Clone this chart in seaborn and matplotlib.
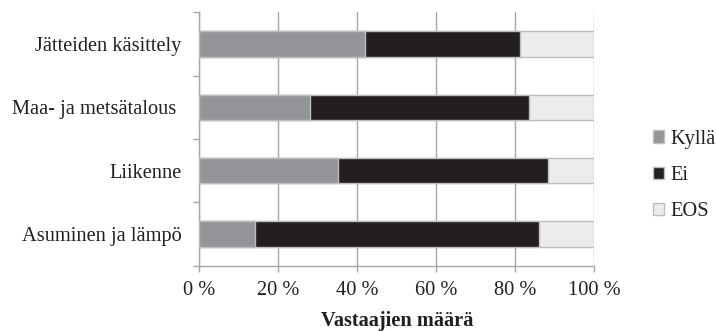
import matplotlib
matplotlib.use("Agg")
import matplotlib.pyplot as plt
import seaborn as sns
import numpy as np
import pandas as pd
from matplotlib.ticker import MultipleLocator, FixedLocator, FuncFormatter

categories = ["Jätteiden käsittely", "Maa- ja metsätalous ", "Liikenne", "Asuminen ja lämpö"]
kylla = [42.0, 28.0, 35.0, 14.0]
ei = [39.3, 55.5, 53.4, 71.9]
eos = [18.7, 16.5, 11.6, 14.1]
series_names = ["Kyllä", "Ei", "EOS"]
colors = {"Kyllä": "#939598", "Ei": "#231f20", "EOS": "#ececec"}

sns.set_theme(style="white")
plt.rcParams["font.family"] = ["Liberation Serif", "DejaVu Serif"]
FS = 14.7

df = pd.DataFrame({"cat": categories, "Kyllä": kylla, "Ei": ei, "EOS": eos})
df["c1"] = df["Kyllä"]
df["c2"] = df["Kyllä"] + df["Ei"]
df["c3"] = df["c2"] + df["EOS"]

fig = plt.figure(figsize=(7.16, 3.31), dpi=100)
ax = fig.add_axes([0.2783, 0.1973, 0.8300 - 0.2783, 0.9628 - 0.1973])

sns.barplot(data=df, x="c3", y="cat", orient="h", color=colors["EOS"], width=0.4,
            edgecolor="#bdbdbd", linewidth=1.0, label="EOS", ax=ax, saturation=1, zorder=3)
sns.barplot(data=df, x="c2", y="cat", orient="h", color=colors["Ei"], width=0.4,
            edgecolor="#bdbdbd", linewidth=1.0, label="Ei", ax=ax, saturation=1, zorder=3)
sns.barplot(data=df, x="c1", y="cat", orient="h", color=colors["Kyllä"], width=0.4,
            edgecolor="#bdbdbd", linewidth=1.0, label="Kyllä", ax=ax, saturation=1, zorder=3)

handles, labels = ax.get_legend_handles_labels()
hmap = dict(zip(labels, handles))
if ax.get_legend() is not None:
    ax.get_legend().remove()

ax.set_xlim(0, 100)
ax.set_ylim(3.5, -0.5)
ax.xaxis.set_major_locator(MultipleLocator(20))
ax.xaxis.set_major_formatter(FuncFormatter(lambda v, p: f"{int(round(v))} %"))
ax.grid(axis="x", color="#a6a6a6", linewidth=1.0, zorder=0)
ax.set_axisbelow(True)

for s in ["top", "right"]:
    ax.spines[s].set_visible(False)
for s in ["left", "bottom"]:
    ax.spines[s].set_color("#a6a6a6")
    ax.spines[s].set_linewidth(1.0)

ax.tick_params(axis="x", which="major", direction="out", length=4.3, width=1.0,
               color="#a6a6a6", labelsize=FS, pad=7, bottom=True, labelcolor="#231f20")
ax.yaxis.set_minor_locator(FixedLocator([-0.5, 0.5, 1.5, 2.5, 3.5]))
ax.tick_params(axis="y", which="minor", direction="out", length=4.3, width=1.0,
               color="#a6a6a6", left=True)
ax.tick_params(axis="y", which="major", length=0, labelsize=FS, pad=12.7, labelcolor="#231f20")

ax.set_ylabel("")
ax.set_xlabel("Vastaajien määrä", fontsize=FS, fontweight="bold", color="#231f20", labelpad=8)

leg = fig.legend([hmap[n] for n in series_names], series_names, loc="center left",
                 bbox_to_anchor=(0.912, 0.47), frameon=False, fontsize=FS,
                 handlelength=0.55, handleheight=0.55, handletextpad=0.3,
                 labelspacing=0.85, borderaxespad=0, borderpad=0)
for t in leg.get_texts():
    t.set_color("#231f20")

fig.savefig("out.png", dpi=100)
